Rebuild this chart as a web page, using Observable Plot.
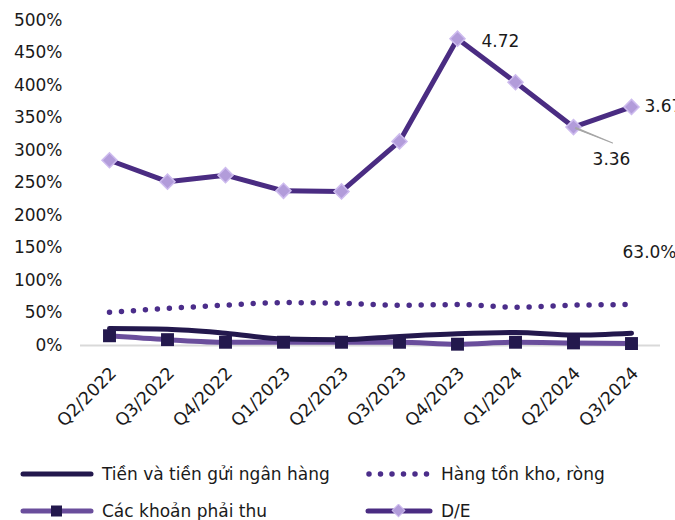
<!DOCTYPE html>
<html><head><meta charset="utf-8">
<script src="https://cdn.jsdelivr.net/npm/d3@7"></script>
<script src="https://cdn.jsdelivr.net/npm/@observablehq/plot@0.6"></script>
<style>
body{margin:0;background:#fff;font-family:"DejaVu Sans",sans-serif;color:#1a1a1a;}
#wrap{position:relative;width:675px;height:520px;overflow:hidden;}
#legend{position:absolute;left:0;top:440px;width:675px;height:80px;}
.item{position:absolute;display:flex;align-items:center;font-size:17px;height:24px;}
.item svg{margin-right:8px;}
</style></head><body>
<div id="wrap"><div id="chart"></div><div id="legend"></div></div>
<script>
const quarters = ["Q2/2022","Q3/2022","Q4/2022","Q1/2023","Q2/2023","Q3/2023","Q4/2023","Q1/2024","Q2/2024","Q3/2024"];
const cash = [26,25,19,10,9,14,18,20,16,19];
const inventory = [51,57,62,66,65,62,63,59,62,63];
const receivables = [15,9,5,5,5,5,2,5,4,3];
const de = [2.85,2.52,2.62,2.38,2.37,3.14,4.72,4.05,3.36,3.67];
const yTicks = [0,50,100,150,200,250,300,350,400,450,500];
const seriesNames = ["Tiền và tiền gửi ngân hàng","Hàng tồn kho, ròng","Các khoản phải thu","D/E"];

const rows = quarters.map((q,i)=>({q, cash:cash[i], inv:inventory[i], rec:receivables[i], de:de[i]*100, deRaw:de[i]}));
const byQ = q => rows.filter(r=>r.q===q);

const C_CASH="#23184D", C_INV="#4B2D8A", C_REC="#6A4E9C", C_DE="#4A2C82", C_DIA="#B29CDA", C_DIA_S="#CDBBEE";

const chart = Plot.plot({
  width:675, height:440, marginLeft:80, marginRight:15, marginTop:20, marginBottom:95,
  style:{fontFamily:"DejaVu Sans", fontSize:"17px", color:"#1a1a1a", background:"#fff"},
  x:{type:"point", domain:quarters, padding:0.5, label:null, axis:null},
  y:{domain:[0,500], ticks:yTicks, tickFormat:d=>d+"%", tickSize:0, tickPadding:18, label:null},
  marks:[
    Plot.axisX({tickRotate:-45, tickSize:0, tickPadding:25, fontSize:17.5, label:null, dx:4}),
    Plot.ruleY([0],{stroke:"#d9d9d9", strokeWidth:2}),
    Plot.line(rows,{x:"q", y:"inv", stroke:C_INV, strokeWidth:5.5, strokeDasharray:"0 12", strokeLinecap:"round", curve:"monotone-x"}),
    Plot.line(rows,{x:"q", y:"rec", stroke:C_REC, strokeWidth:5, curve:"monotone-x"}),
    Plot.line(rows,{x:"q", y:"cash", stroke:C_CASH, strokeWidth:5, curve:"monotone-x"}),
    Plot.dot(rows,{x:"q", y:"rec", symbol:"square", r:7.3, fill:C_CASH}),
    Plot.line(rows,{x:"q", y:"de", stroke:C_DE, strokeWidth:5}),
    Plot.dot(rows,{x:"q", y:"de", symbol:"square", r:6, rotate:45, fill:C_DIA, stroke:C_DIA_S, strokeWidth:1.5}),
    Plot.vector(byQ("Q2/2024"),{x:"q", y:"de", length:40, rotate:112, anchor:"start", shape:"spike", r:0.6, stroke:"#a6a6a6", fill:"#a6a6a6", strokeWidth:1, dx:2, dy:1}),
    Plot.text(byQ("Q4/2023"),{x:"q", y:"de", text:d=>d.deRaw.toFixed(2), dx:24, dy:3, textAnchor:"start", fontSize:17, fill:"#1a1a1a"}),
    Plot.text(byQ("Q3/2024"),{x:"q", y:"de", text:d=>d.deRaw.toFixed(2), dx:13, dy:0, textAnchor:"start", fontSize:17, fill:"#1a1a1a"}),
    Plot.text(byQ("Q2/2024"),{x:"q", y:"de", text:d=>d.deRaw.toFixed(2), dx:38, dy:32, textAnchor:"middle", fontSize:17, fill:"#1a1a1a"}),
    Plot.text(byQ("Q3/2024"),{x:"q", y:"inv", text:d=>d.inv.toFixed(1)+"%", dx:-9, dy:-52, textAnchor:"start", fontSize:17, fill:"#1a1a1a"})
  ]
});
document.getElementById("chart").appendChild(chart);

// legend
const sw = {
  cash:`<svg width="74" height="14"><line x1="3" y1="7" x2="71" y2="7" stroke="${C_CASH}" stroke-width="5" stroke-linecap="round"/></svg>`,
  inv:`<svg width="68" height="14"><line x1="4" y1="7" x2="64" y2="7" stroke="${C_INV}" stroke-width="5.5" stroke-linecap="round" stroke-dasharray="0 11.5"/></svg>`,
  rec:`<svg width="74" height="14"><line x1="3" y1="7" x2="71" y2="7" stroke="${C_REC}" stroke-width="5" stroke-linecap="round"/><rect x="31" y="1.5" width="11" height="11" fill="${C_CASH}"/></svg>`,
  de:`<svg width="68" height="14"><line x1="3" y1="7" x2="65" y2="7" stroke="${C_DE}" stroke-width="5" stroke-linecap="round"/><rect x="29" y="2" width="9" height="9" fill="${C_DIA}" stroke="${C_DIA_S}" stroke-width="1" transform="rotate(45 33.5 6.5)"/></svg>`
};
const items = [
  {k:"cash", name:seriesNames[0], left:20, top:22},
  {k:"inv", name:seriesNames[1], left:365, top:22},
  {k:"rec", name:seriesNames[2], left:20, top:59},
  {k:"de", name:seriesNames[3], left:365, top:59}
];
const lg = document.getElementById("legend");
items.forEach(it=>{
  const d=document.createElement("div");
  d.className="item"; d.style.left=it.left+"px"; d.style.top=it.top+"px";
  d.innerHTML=sw[it.k]+`<span>${it.name}</span>`;
  lg.appendChild(d);
});
</script>
</body></html>
